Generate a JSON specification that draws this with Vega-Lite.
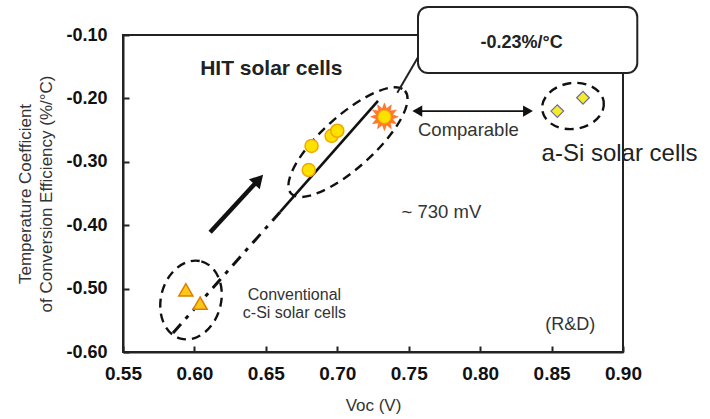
{
  "$schema": "https://vega.github.io/schema/vega-lite/v6.json",
  "width": 500,
  "height": 317,
  "autosize": {"type": "none"},
  "padding": {"left": 123, "top": 35, "right": 87, "bottom": 67},
  "background": "white",
  "config": {"view": {"stroke": null}, "font": "Liberation Sans"},
  "datasets": {
    "frame": [{"x": 0.55, "x2": 0.9, "y": -0.6, "y2": -0.1}],
    "hitEllipse": [{"x": 0.7075, "y": -0.269}],
    "csiEllipse": [{"x": 0.5976, "y": -0.518}],
    "asiEllipse": [{"x": 0.865, "y": -0.212}],
    "trend": [{"x": 0.585, "y": -0.57}, {"x": 0.66, "y": -0.379}],
    "fit": [{"x": 0.66, "y": -0.379}, {"x": 0.7285, "y": -0.204}],
    "callout": [{"x": 0.742, "y": -0.191}, {"x": 0.7565, "y": -0.135}],
    "arrow": [{"x": 0.611, "y": -0.411}, {"x": 0.645, "y": -0.328}],
    "arrowHead": [{"x": 0.645, "y": -0.328}],
    "comp": [{"x": 0.756, "y": -0.22}, {"x": 0.8335, "y": -0.22}],
    "compLeft": [{"x": 0.756, "y": -0.22}],
    "compRight": [{"x": 0.8335, "y": -0.22}],
    "box": [{"x": 0.7565, "x2": 0.91, "y": -0.0558, "y2": -0.16}],
    "csi": [{"x": 0.594, "y": -0.502}, {"x": 0.604, "y": -0.523}],
    "hit": [{"x": 0.682, "y": -0.275}, {"x": 0.696, "y": -0.259}, {"x": 0.7, "y": -0.251}, {"x": 0.68, "y": -0.313}],
    "best": [{"x": 0.733, "y": -0.229}],
    "asi": [{"x": 0.854, "y": -0.22}, {"x": 0.872, "y": -0.199}],
    "boldTitle": [{"x": 0.604, "y": -0.153, "t": "HIT solar cells"}],
    "boxText": [{"x": 0.829, "y": -0.113, "t": "-0.23%/°C"}],
    "asiText": [{"x": 0.843, "y": -0.287, "t": "a-Si solar cells"}],
    "notes": [
      {"x": 0.7565, "y": -0.25, "t": "Comparable"},
      {"x": 0.745, "y": -0.379, "t": "~ 730 mV"}
    ],
    "rd": [{"x": 0.863, "y": -0.557, "t": "(R&D)"}],
    "conv": [
      {"x": 0.67, "y": -0.51, "t": "Conventional"},
      {"x": 0.67, "y": -0.538, "t": "c-Si solar cells"}
    ]
  },
  "encoding": {
    "x": {
      "field": "x", "type": "quantitative",
      "scale": {"domain": [0.55, 0.9], "nice": false, "zero": false},
      "axis": {
        "title": "Voc (V)",
        "values": [0.55, 0.6, 0.65, 0.7, 0.75, 0.8, 0.85, 0.9],
        "format": ".2f", "grid": false, "labelFlush": false, "labelOverlap": false,
        "domainColor": "#222", "domainWidth": 2,
        "tickColor": "#222", "tickSize": -6, "tickWidth": 2,
        "labelFont": "Liberation Sans", "labelFontSize": 19, "labelFontWeight": "bold", "labelColor": "#111", "labelPadding": 18,
        "titleFont": "Liberation Sans", "titleFontSize": 17, "titleFontWeight": "normal", "titleColor": "#333", "titlePadding": 14
      }
    },
    "y": {
      "field": "y", "type": "quantitative",
      "scale": {"domain": [-0.6, -0.1], "nice": false, "zero": false},
      "axis": {
        "title": ["Temperature Coefficient", "of Conversion Efficiency (%/°C)"],
        "values": [-0.6, -0.5, -0.4, -0.3, -0.2, -0.1],
        "labelExpr": "replace(format(datum.value, '.2f'), '−', '-')",
        "grid": false, "labelFlush": false, "labelOverlap": false,
        "domainColor": "#222", "domainWidth": 2,
        "tickColor": "#222", "tickSize": -6, "tickWidth": 2,
        "labelFont": "Liberation Sans", "labelFontSize": 18, "labelFontWeight": "bold", "labelColor": "#111", "labelPadding": 22,
        "titleFont": "Liberation Sans", "titleFontSize": 17, "titleFontWeight": "normal", "titleColor": "#333", "titlePadding": 10, "titleLineHeight": 21
      }
    }
  },
  "layer": [
    {
      "data": {"name": "frame"},
      "mark": {"type": "rect", "filled": false, "stroke": "#222", "strokeWidth": 2},
      "encoding": {"x2": {"field": "x2"}, "y2": {"field": "y2"}}
    },
    {
      "data": {"name": "hitEllipse"},
      "mark": {"type": "point", "filled": false, "stroke": "#111", "strokeWidth": 2.4, "strokeDash": [9, 6], "opacity": 1,
        "shape": "M1,0C1,0.188,0.552,0.34,0,0.34C-0.552,0.34,-1,0.188,-1,0C-1,-0.188,-0.552,-0.34,0,-0.34C0.552,-0.34,1,-0.188,1,0Z",
        "size": 23500, "angle": -42}
    },
    {
      "data": {"name": "csiEllipse"},
      "mark": {"type": "point", "filled": false, "stroke": "#111", "strokeWidth": 2.4, "strokeDash": [9, 6], "opacity": 1,
        "shape": "M1,0C1,0.414,0.552,0.75,0,0.75C-0.552,0.75,-1,0.414,-1,0C-1,-0.414,-0.552,-0.75,0,-0.75C0.552,-0.75,1,-0.414,1,0Z",
        "size": 6400, "angle": -75}
    },
    {
      "data": {"name": "asiEllipse"},
      "mark": {"type": "point", "filled": false, "stroke": "#111", "strokeWidth": 2.4, "strokeDash": [9, 6], "opacity": 1,
        "shape": "M1,0C1,0.409,0.552,0.74,0,0.74C-0.552,0.74,-1,0.409,-1,0C-1,-0.409,-0.552,-0.74,0,-0.74C0.552,-0.74,1,-0.409,1,0Z",
        "size": 3844, "angle": -8}
    },
    {
      "data": {"name": "trend"},
      "mark": {"type": "line", "color": "#111", "strokeWidth": 3, "strokeDash": [12, 7, 4, 7]}
    },
    {
      "data": {"name": "fit"},
      "mark": {"type": "line", "color": "#111", "strokeWidth": 2.6}
    },
    {
      "data": {"name": "callout"},
      "mark": {"type": "line", "color": "#222", "strokeWidth": 2}
    },
    {
      "data": {"name": "arrow"},
      "mark": {"type": "line", "color": "#111", "strokeWidth": 4.5}
    },
    {
      "data": {"name": "arrowHead"},
      "mark": {"type": "point", "shape": "triangle-up", "filled": true, "color": "#111", "opacity": 1, "size": 220, "angle": 43}
    },
    {
      "data": {"name": "comp"},
      "mark": {"type": "line", "color": "#111", "strokeWidth": 1.6}
    },
    {
      "data": {"name": "compLeft"},
      "mark": {"type": "point", "shape": "triangle-left", "filled": true, "color": "#111", "opacity": 1, "size": 130}
    },
    {
      "data": {"name": "compRight"},
      "mark": {"type": "point", "shape": "triangle-right", "filled": true, "color": "#111", "opacity": 1, "size": 130}
    },
    {
      "data": {"name": "box"},
      "mark": {"type": "rect", "fill": "white", "stroke": "#222", "strokeWidth": 2, "cornerRadius": 10},
      "encoding": {"x2": {"field": "x2"}, "y2": {"field": "y2"}}
    },
    {
      "data": {"name": "csi"},
      "mark": {"type": "point", "shape": "triangle-up", "filled": true, "fill": "#ffc61a", "stroke": "#d98000", "strokeWidth": 1.5, "opacity": 1, "size": 200}
    },
    {
      "data": {"name": "hit"},
      "mark": {"type": "point", "shape": "circle", "filled": true, "fill": "#ffe100", "stroke": "#f0a800", "strokeWidth": 1.5, "opacity": 1, "size": 170}
    },
    {
      "data": {"name": "best"},
      "mark": {"type": "point", "filled": true, "fill": "#ff7a2a", "stroke": "#ff5a10", "strokeWidth": 0.5, "opacity": 1, "size": 760,
        "shape": "M1,0L0.58,0.155L0.866,0.5L0.424,0.424L0.5,0.866L0.155,0.58L0,1L-0.155,0.58L-0.5,0.866L-0.424,0.424L-0.866,0.5L-0.58,0.155L-1,0L-0.58,-0.155L-0.866,-0.5L-0.424,-0.424L-0.5,-0.866L-0.155,-0.58L0,-1L0.155,-0.58L0.5,-0.866L0.424,-0.424L0.866,-0.5L0.58,-0.155Z"}
    },
    {
      "data": {"name": "best"},
      "mark": {"type": "point", "shape": "circle", "filled": true, "fill": "#ffe100", "stroke": "#f5b000", "strokeWidth": 1, "opacity": 1, "size": 170}
    },
    {
      "data": {"name": "asi"},
      "mark": {"type": "point", "shape": "diamond", "filled": true, "fill": "#f2ec2a", "stroke": "#6f6a95", "strokeWidth": 1.2, "opacity": 1, "size": 160}
    },
    {
      "data": {"name": "boldTitle"},
      "mark": {"type": "text", "align": "left", "baseline": "middle", "font": "Liberation Sans", "fontSize": 21, "fontWeight": "bold", "color": "#222"},
      "encoding": {"text": {"field": "t"}}
    },
    {
      "data": {"name": "boxText"},
      "mark": {"type": "text", "align": "center", "baseline": "middle", "font": "Liberation Sans", "fontSize": 18, "fontWeight": "bold", "color": "#222"},
      "encoding": {"text": {"field": "t"}}
    },
    {
      "data": {"name": "asiText"},
      "mark": {"type": "text", "align": "left", "baseline": "middle", "font": "Liberation Sans", "fontSize": 24, "color": "#222"},
      "encoding": {"text": {"field": "t"}}
    },
    {
      "data": {"name": "notes"},
      "mark": {"type": "text", "align": "left", "baseline": "middle", "font": "Liberation Sans", "fontSize": 18.5, "color": "#333"},
      "encoding": {"text": {"field": "t"}}
    },
    {
      "data": {"name": "rd"},
      "mark": {"type": "text", "align": "center", "baseline": "middle", "font": "Liberation Sans", "fontSize": 18, "color": "#333"},
      "encoding": {"text": {"field": "t"}}
    },
    {
      "data": {"name": "conv"},
      "mark": {"type": "text", "align": "center", "baseline": "middle", "font": "Liberation Sans", "fontSize": 16, "color": "#333"},
      "encoding": {"text": {"field": "t"}}
    }
  ]
}
